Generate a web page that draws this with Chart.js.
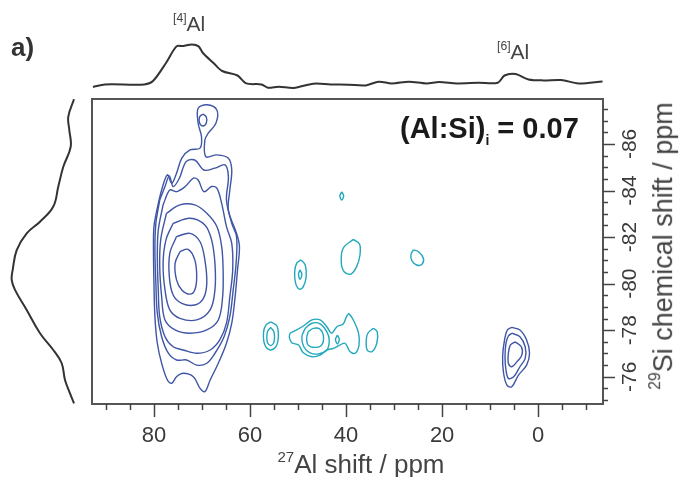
<!DOCTYPE html>
<html>
<head>
<meta charset="utf-8">
<script src="https://cdn.jsdelivr.net/npm/chart.js@4.4.1/dist/chart.umd.min.js"></script>
<style>
  body { margin: 0; background: #fff; }
  #wrap { position: relative; width: 683px; height: 477px; font-family: "Liberation Sans", Arial, sans-serif; color: #333; }
  canvas { position: absolute; }
  .lbl { position: absolute; white-space: nowrap; line-height: 1; }
  .lbl sup { font-size: 0.58em; vertical-align: 0.75em; }
</style>
</head>
<body>
<div id="wrap">
  <canvas id="main" width="683" height="477" style="left:0;top:0;width:683px;height:477px"></canvas>
  <canvas id="top" width="683" height="99" style="left:0;top:0;width:683px;height:99px"></canvas>
  <canvas id="side" width="92" height="305" style="left:0;top:99px;width:92px;height:305px"></canvas>

  <div class="lbl" style="left:11px;top:34px;font-size:26px;font-weight:bold;color:#333">a)</div>
  <div class="lbl" style="left:173px;top:12px;font-size:21px;color:#444"><sup>[4]</sup>Al</div>
  <div class="lbl" style="left:497px;top:40px;font-size:21px;color:#444"><sup>[6]</sup>Al</div>
  <div class="lbl" style="left:400px;top:114px;font-size:29px;font-weight:bold;color:#1a1a1a">(Al:Si)<span style="font-size:14px;vertical-align:-7px">i</span> = 0.07</div>
  <div class="lbl" style="left:361px;top:449px;font-size:26px;color:#444;transform:translateX(-50%)"><sup>27</sup>Al shift / ppm</div>
  <div class="lbl" style="left:662px;top:246px;font-size:27px;color:#444;transform:translate(-50%,-50%) rotate(-90deg)"><sup>29</sup>Si chemical shift / ppm</div>
</div>

<script>
// axis ranges (ppm)
const alRange = [-13.5, 92.9];
const siRange = [-87.93, -74.83];
const xTickLabels = [80, 60, 40, 20, 0];
const yTickLabels = [-86, -84, -82, -80, -78, -76];

// 27Al projection (top)
const alShift = [92.7, 90.2, 82.0, 80.2, 77.5, 75.3, 73.9, 72.1, 70.7, 69.8, 67.6, 65.8, 62.6, 60.8, 57.6, 56.3, 54.0, 50.9, 46.8, 43.2, 39.5, 35.9, 33.2, 30.5, 26.9, 23.3, 20.6, 16.9, 12.4, 8.4, 7.0, 4.7, 2.0, -1.1, -4.8, -8.4, -13.4];
const alIntensity = [8, 10.6, 10.6, 14, 32, 48.6, 49, 50.5, 48.6, 42, 32, 24, 19.5, 11.6, 10.6, 7.3, 8.3, 7, 11.3, 10.6, 10.3, 9.6, 13.3, 11.6, 13.3, 11.6, 13, 11.6, 12.3, 12.3, 19.5, 20.9, 15.6, 14.6, 15, 11.6, 13.6];

// 29Si projection (left)
const siShift = [-87.92, -87.17, -86.6, -85.88, -85.02, -84.17, -83.31, -82.66, -82.16, -81.44, -80.59, -80.16, -79.73, -78.87, -77.87, -77.15, -76.58, -75.86, -75.29, -74.86];
const siIntensity = [18, 23.7, 22.7, 21.3, 28.7, 33.7, 38.7, 52, 65.3, 75.3, 79.3, 80.3, 77, 65.3, 52, 38.7, 30.3, 27, 22, 18];

// [4]Al contours, inner to outer: [Al ppm, Si ppm]
const alivLevel1 = [[74.6,-81.37],[72.9,-81.47],[71.5,-81.02],[71.1,-80.30],[71.5,-79.73],[72.5,-79.55],[74.2,-79.73],[75.3,-80.16],[75.6,-80.87]];
const alivLevel2 = [[75.3,-82.02],[72.5,-82.16],[70.4,-81.80],[69.4,-81.02],[69.0,-80.01],[69.7,-79.37],[71.5,-79.08],[74.2,-79.15],[76.0,-79.51],[76.8,-80.30],[76.7,-81.30]];
const alivLevel3 = [[76.0,-82.59],[72.5,-82.81],[69.4,-82.52],[68.0,-81.88],[67.3,-80.87],[67.3,-79.73],[68.3,-78.87],[71.1,-78.44],[74.6,-78.51],[76.7,-78.87],[77.7,-79.73],[78.1,-80.87],[77.5,-81.88]];
const alivLevel4 = [[77.4,-83.02],[74.6,-83.38],[71.5,-83.38],[69.0,-83.02],[66.9,-82.45],[65.9,-81.59],[65.6,-80.59],[65.7,-79.44],[66.6,-78.44],[69.0,-78.01],[72.5,-77.87],[75.6,-78.01],[77.7,-78.44],[78.4,-79.44],[78.8,-80.73],[78.6,-81.88]];
const alivLevel5 = [[78.1,-83.38],[76.7,-84.02],[75.3,-83.95],[73.5,-84.17],[71.8,-84.53],[70.8,-84.45],[69.6,-83.95],[68.0,-84.17],[66.9,-84.10],[65.9,-83.45],[64.9,-82.45],[63.8,-81.73],[63.6,-80.59],[64.2,-79.44],[64.9,-78.30],[66.3,-77.58],[68.3,-77.15],[71.1,-77.01],[73.9,-77.15],[76.0,-77.29],[77.7,-77.72],[78.8,-78.58],[79.1,-79.73],[79.3,-81.16],[79.1,-82.30]];
const alivLevel6 = [[78.8,-83.59],[77.7,-84.17],[76.8,-84.63],[76.0,-84.17],[74.7,-84.53],[73.3,-85.24],[71.5,-85.31],[69.6,-84.88],[67.3,-84.96],[65.2,-85.10],[64.5,-84.59],[64.9,-83.59],[63.8,-82.59],[62.8,-82.02],[62.9,-80.87],[63.5,-79.73],[64.2,-78.58],[65.4,-77.72],[67.3,-77.01],[69.0,-76.58],[71.1,-76.50],[73.2,-76.72],[75.3,-76.72],[77.0,-77.01],[78.4,-77.72],[79.3,-78.72],[79.6,-80.01],[79.8,-81.45],[79.6,-82.59]];
const alivLevel7 = [[79.4,-83.16],[78.4,-84.02],[77.2,-84.67],[76.3,-84.31],[75.3,-84.74],[74.2,-85.39],[72.5,-85.74],[70.4,-85.82],[70.1,-86.31],[70.8,-86.89],[70.8,-87.53],[69.0,-87.68],[66.9,-87.46],[67.1,-86.89],[68.7,-86.46],[69.4,-86.17],[69.2,-85.45],[66.9,-85.53],[64.5,-85.39],[63.8,-84.88],[64.2,-84.02],[64.5,-83.16],[62.8,-82.16],[62.2,-81.59],[62.6,-80.59],[63.1,-79.44],[63.8,-78.30],[64.9,-77.44],[66.6,-76.58],[68.3,-75.86],[69.4,-75.36],[70.4,-75.50],[71.8,-76.00],[73.9,-76.15],[75.3,-76.00],[76.3,-75.72],[77.2,-75.86],[78.4,-76.58],[79.3,-77.44],[79.8,-78.58],[80.0,-80.01],[80.1,-81.45],[80.0,-82.45]];
const alivLobe = [[69.8,-87.29],[69.1,-87.16],[69.1,-86.90],[69.8,-86.77],[70.5,-86.90],[70.5,-87.16]];

// [6]Al contours
const alviOuter = [[5.5,-78.12],[3.8,-78.01],[2.4,-77.58],[1.8,-77.01],[2.4,-76.50],[4.1,-76.07],[5.5,-75.57],[6.5,-75.64],[7.2,-76.15],[7.4,-76.86],[7.0,-77.58],[6.4,-78.01]];
const alviMiddle = [[5.5,-77.87],[3.8,-77.72],[2.7,-77.29],[2.7,-76.79],[3.8,-76.43],[5.1,-76.00],[6.2,-75.93],[6.7,-76.29],[6.9,-76.86],[6.7,-77.44],[6.2,-77.75]];
const alviInner = [[4.8,-77.50],[3.5,-77.29],[3.4,-76.93],[4.4,-76.65],[5.5,-76.43],[6.2,-76.58],[6.2,-77.01],[5.8,-77.36]];

// weak (cyan) contours
const weakTopRing = [[40.9,-83.94],[40.5,-83.77],[40.9,-83.59],[41.3,-83.77]];
const weakOval = [[38.5,-81.90],[37.2,-81.70],[37.1,-81.23],[37.8,-80.73],[39.0,-80.41],[40.4,-80.51],[41.0,-80.94],[40.6,-81.52]];
const weakRight = [[26.0,-81.45],[24.9,-81.37],[23.9,-81.09],[24.2,-80.83],[25.3,-80.80],[26.3,-80.99],[26.5,-81.23]];
const weakPairOuter = [[49.4,-81.02],[48.5,-80.80],[48.3,-80.30],[48.9,-79.87],[49.7,-79.76],[50.5,-80.01],[50.7,-80.51],[50.3,-80.87]];
const weakPairInner = [[49.6,-80.59],[49.2,-80.40],[49.6,-80.19],[49.9,-80.40]];
const weakFarOuter = [[55.7,-78.36],[54.4,-78.18],[54.1,-77.72],[54.6,-77.29],[55.8,-77.15],[56.9,-77.36],[57.2,-77.87],[56.7,-78.22]];
const weakFarInner = [[55.7,-78.12],[55.0,-77.92],[55.0,-77.49],[55.7,-77.34],[56.4,-77.49],[56.4,-77.92]];
const weakCluster = [[51.7,-77.87],[50.6,-77.98],[48.9,-78.18],[47.1,-78.44],[45.4,-78.44],[44.0,-78.15],[43.0,-77.87],[41.9,-78.15],[40.6,-78.27],[39.9,-78.58],[39.4,-78.70],[38.3,-78.36],[37.4,-77.87],[37.3,-77.36],[38.1,-77.01],[39.2,-77.08],[40.2,-77.44],[41.3,-77.36],[42.6,-77.22],[44.0,-77.15],[45.4,-76.93],[47.1,-76.86],[48.9,-77.03],[49.9,-77.36],[51.3,-77.46],[51.8,-77.69]];
const weakClusterMid = [[48.5,-78.08],[47.1,-78.30],[45.4,-78.27],[44.0,-77.93],[43.5,-77.58],[44.0,-77.15],[45.8,-76.98],[47.5,-77.03],[48.8,-77.29],[49.2,-77.72]];
const weakClusterInner = [[47.9,-77.93],[46.8,-78.08],[45.4,-78.04],[44.7,-77.72],[45.1,-77.36],[46.5,-77.26],[47.9,-77.36],[48.2,-77.65]];
const weakSmallRing = [[41.8,-77.79],[41.4,-77.61],[41.8,-77.41],[42.2,-77.61]];
const weakRightRing = [[34.3,-78.08],[33.5,-77.93],[33.6,-77.44],[34.6,-77.08],[35.6,-77.15],[35.8,-77.58],[35.4,-77.89]];

const strongColor = '#3f55a6';
const weakColor = '#22a8bd';

function contour(points, color) {
  const data = points.map(p => ({ x: p[0], y: p[1] }));
  data.push(data[0]);
  return { data, showLine: true, borderColor: color, borderWidth: 1.4, pointRadius: 0, tension: 0.35, fill: false };
}

const strongSets = [alivLevel1, alivLevel2, alivLevel3, alivLevel4, alivLevel5, alivLevel6, alivLevel7, alivLobe, alviOuter, alviMiddle, alviInner];
const weakSets = [weakTopRing, weakOval, weakRight, weakPairOuter, weakPairInner, weakFarOuter, weakFarInner, weakCluster, weakClusterMid, weakClusterInner, weakSmallRing, weakRightRing];

const datasets = strongSets.map(s => contour(s, strongColor)).concat(weakSets.map(s => contour(s, weakColor)));

// frame, ticks and tick labels
const axisPlugin = {
  id: 'axisPlugin',
  afterDraw(chart) {
    const { ctx, chartArea: a, scales } = chart;
    const x = scales.x, y = scales.y;
    ctx.save();
    ctx.strokeStyle = '#555';
    ctx.lineWidth = 2;
    ctx.strokeRect(a.left, a.top, a.right - a.left, a.bottom - a.top);

    ctx.strokeStyle = '#444';
    ctx.lineWidth = 1.5;
    for (let v = -10; v <= 90; v += 5) {
      const px = Math.round(x.getPixelForValue(v)) + 0.5;
      const len = xTickLabels.includes(v) ? 13 : 6;
      ctx.beginPath();
      ctx.moveTo(px, a.bottom);
      ctx.lineTo(px, a.bottom + len);
      ctx.stroke();
    }
    for (let v = -87.5; v <= -75; v += 0.5) {
      const py = Math.round(y.getPixelForValue(v)) + 0.5;
      const len = yTickLabels.includes(v) ? 12 : 5;
      ctx.beginPath();
      ctx.moveTo(a.right, py);
      ctx.lineTo(a.right + len, py);
      ctx.stroke();
    }

    ctx.fillStyle = '#3a3a3a';
    ctx.font = '22px "Liberation Sans", Arial, sans-serif';
    ctx.textAlign = 'center';
    ctx.textBaseline = 'top';
    xTickLabels.forEach(v => ctx.fillText(String(v), x.getPixelForValue(v), a.bottom + 21));

    ctx.font = '21px "Liberation Sans", Arial, sans-serif';
    ctx.textBaseline = 'middle';
    yTickLabels.forEach(v => {
      ctx.save();
      ctx.translate(a.right + 27, y.getPixelForValue(v));
      ctx.rotate(-Math.PI / 2);
      ctx.fillText(String(v), 0, 0);
      ctx.restore();
    });
    ctx.restore();
  }
};

const baseOpts = {
  responsive: false,
  animation: false,
  plugins: { legend: { display: false }, tooltip: { enabled: false } }
};

new Chart(document.getElementById('main'), {
  type: 'scatter',
  data: { datasets },
  options: {
    ...baseOpts,
    layout: { padding: { left: 92, right: 80, top: 99, bottom: 73 } },
    scales: {
      x: { type: 'linear', min: alRange[0], max: alRange[1], reverse: true, display: false },
      y: { type: 'linear', min: siRange[0], max: siRange[1], reverse: true, display: false }
    }
  },
  plugins: [axisPlugin]
});

new Chart(document.getElementById('top'), {
  type: 'scatter',
  data: {
    datasets: [{
      data: alShift.map((s, i) => ({ x: s, y: alIntensity[i] })),
      showLine: true, borderColor: '#333', borderWidth: 2, pointRadius: 0, tension: 0.3, clip: false
    }]
  },
  options: {
    ...baseOpts,
    layout: { padding: { left: 92, right: 80, top: 5, bottom: 4 } },
    scales: {
      x: { type: 'linear', min: alRange[0], max: alRange[1], reverse: true, display: false },
      y: { type: 'linear', min: 0, max: 90, display: false }
    }
  }
});

new Chart(document.getElementById('side'), {
  type: 'scatter',
  data: {
    datasets: [{
      data: siShift.map((s, i) => ({ x: siIntensity[i], y: s })),
      showLine: true, borderColor: '#333', borderWidth: 2, pointRadius: 0, tension: 0.4, clip: false
    }]
  },
  options: {
    ...baseOpts,
    layout: { padding: { left: 2, right: 0, top: 0, bottom: 0 } },
    scales: {
      x: { type: 'linear', min: 0, max: 90, reverse: true, display: false },
      y: { type: 'linear', min: siRange[0], max: siRange[1], reverse: true, display: false }
    }
  }
});
</script>
</body>
</html>
